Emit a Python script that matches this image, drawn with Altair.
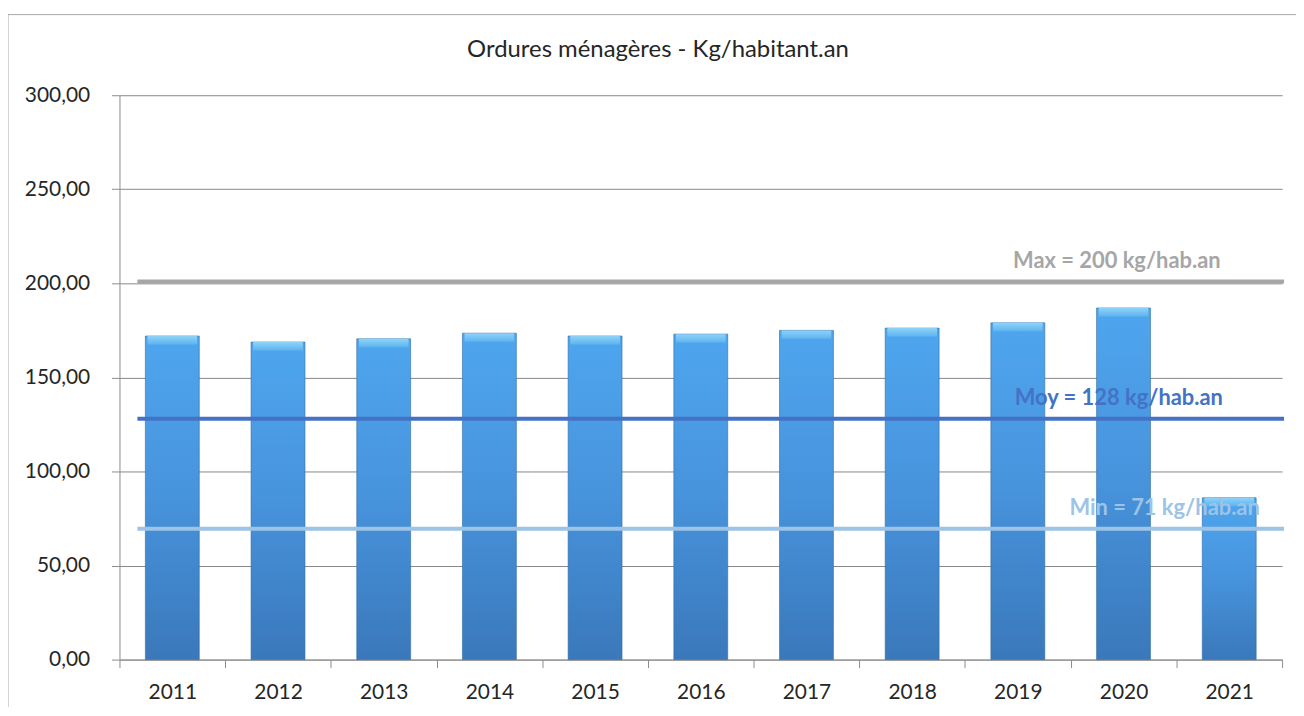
import altair as alt
import pandas as pd

# ---- data ----
years = ["2011", "2012", "2013", "2014", "2015", "2016", "2017", "2018", "2019", "2020", "2021"]
values = [172.0, 168.8, 170.5, 173.5, 172.0, 173.0, 175.0, 176.2, 179.0, 186.9, 86.0]

ref_labels = ["Max = 200 kg/hab.an", "Moy = 128 kg/hab.an", "Min = 71 kg/hab.an"]
ref_values = [201.0, 128.0, 69.5]
ref_colors = ["#a6a6a6", "#4472c4", "#9dc3e6"]

y_ticks = [0, 50, 100, 150, 200, 250, 300]
title_text = "Ordures ménagères - Kg/habitant.an"

FONT = "Lato"
W, H = 1168, 567

df = pd.DataFrame({"annee": years, "valeur": values})
ref_df = pd.DataFrame({"label": ref_labels, "val": ref_values})

x_enc = alt.X(
    "annee:N",
    sort=years,
    scale=alt.Scale(paddingInner=0, paddingOuter=0),
    axis=alt.Axis(
        title=None, labelAngle=0, tickBand="extent", tickSize=8,
        labelFontSize=21, labelFont=FONT, labelColor="#262626", labelPadding=14,
        domainColor="#8c8c8c", tickColor="#8c8c8c", grid=False,
    ),
)
y_enc = alt.Y(
    "valeur:Q",
    scale=alt.Scale(domain=[0, 300], nice=False),
    axis=alt.Axis(
        title=None, values=y_ticks, grid=True, gridColor="#878787", gridWidth=1,
        labelExpr="replace(format(datum.value, '.2f'), '.', ',')",
        tickSize=8, labelPadding=22, labelFontSize=21, labelFont=FONT,
        labelColor="#262626", domainColor="#8c8c8c", tickColor="#8c8c8c",
    ),
)

bar_fill = alt.Gradient(
    gradient="linear", x1=0, x2=0, y1=0, y2=1,
    stops=[
        alt.GradientStop(offset=0, color="#4ea6ee"),
        alt.GradientStop(offset=0.5, color="#4793dc"),
        alt.GradientStop(offset=1, color="#3a78ba"),
    ],
)
cap_fill = alt.Gradient(
    gradient="linear", x1=0, x2=0, y1=0, y2=1,
    stops=[
        alt.GradientStop(offset=0, color="#8fd2f8"),
        alt.GradientStop(offset=1, color="#5db4f0"),
    ],
)

bars = alt.Chart(df).mark_bar(
    width=alt.RelativeBandSize(0.51), fill=bar_fill,
    stroke="#2f6aa0", strokeWidth=1, strokeOpacity=0.6,
).encode(x=x_enc, y=y_enc)

caps = alt.Chart(df).transform_calculate(cap="datum.valeur - 4.5").mark_bar(
    width=alt.RelativeBandSize(0.47), fill=cap_fill,
).encode(x=alt.X("annee:N", sort=years), y="valeur:Q", y2="cap:Q")

color_scale = alt.Scale(domain=ref_labels, range=ref_colors)

rules = alt.Chart(ref_df).mark_rule(strokeWidth=4).encode(
    y=alt.Y("val:Q"),
    x=alt.value(18), x2=alt.value(1170),
    color=alt.Color("label:N", scale=color_scale, legend=None),
)

text_x = [1002, 1004, 1050]
texts = []
for lab, val, tx in zip(ref_labels, ref_values, text_x):
    t = alt.Chart(pd.DataFrame({"label": [lab], "val": [val]})).mark_text(
        font=FONT, fontSize=22, fontWeight="bold", dy=-21, align="center", baseline="middle",
    ).encode(
        y=alt.Y("val:Q"),
        x=alt.value(tx),
        text="label:N",
        color=alt.Color("label:N", scale=color_scale, legend=None),
    )
    texts.append(t)

# chart title as a text mark (the frame rules would push a normal title off-screen)
title = alt.Chart(pd.DataFrame({"t": [title_text]})).mark_text(
    font=FONT, fontSize=24, color="#262626", align="center", baseline="middle",
).encode(x=alt.value(541), y=alt.value(-45), text="t:N")

# outer frame (left and top edges of the chart border)
frame_left = alt.Chart(pd.DataFrame({"a": [0]})).mark_rule(color="#a6a6a6", strokeWidth=1).encode(
    x=alt.value(-112), y=alt.value(-81), y2=alt.value(640)
)
frame_top = alt.Chart(pd.DataFrame({"a": [0]})).mark_rule(color="#a6a6a6", strokeWidth=1).encode(
    x=alt.value(-112), x2=alt.value(1185), y=alt.value(-81)
)

chart = alt.layer(frame_left, frame_top, bars, caps, rules, *texts, title).properties(
    width=W, height=H,
    autosize=alt.AutoSizeParams(type="none"),
    padding={"left": 112, "top": 86, "right": 14, "bottom": 46},
).configure_view(stroke=None)

chart.save("out.html", embed_options={"renderer": "svg", "actions": False})
